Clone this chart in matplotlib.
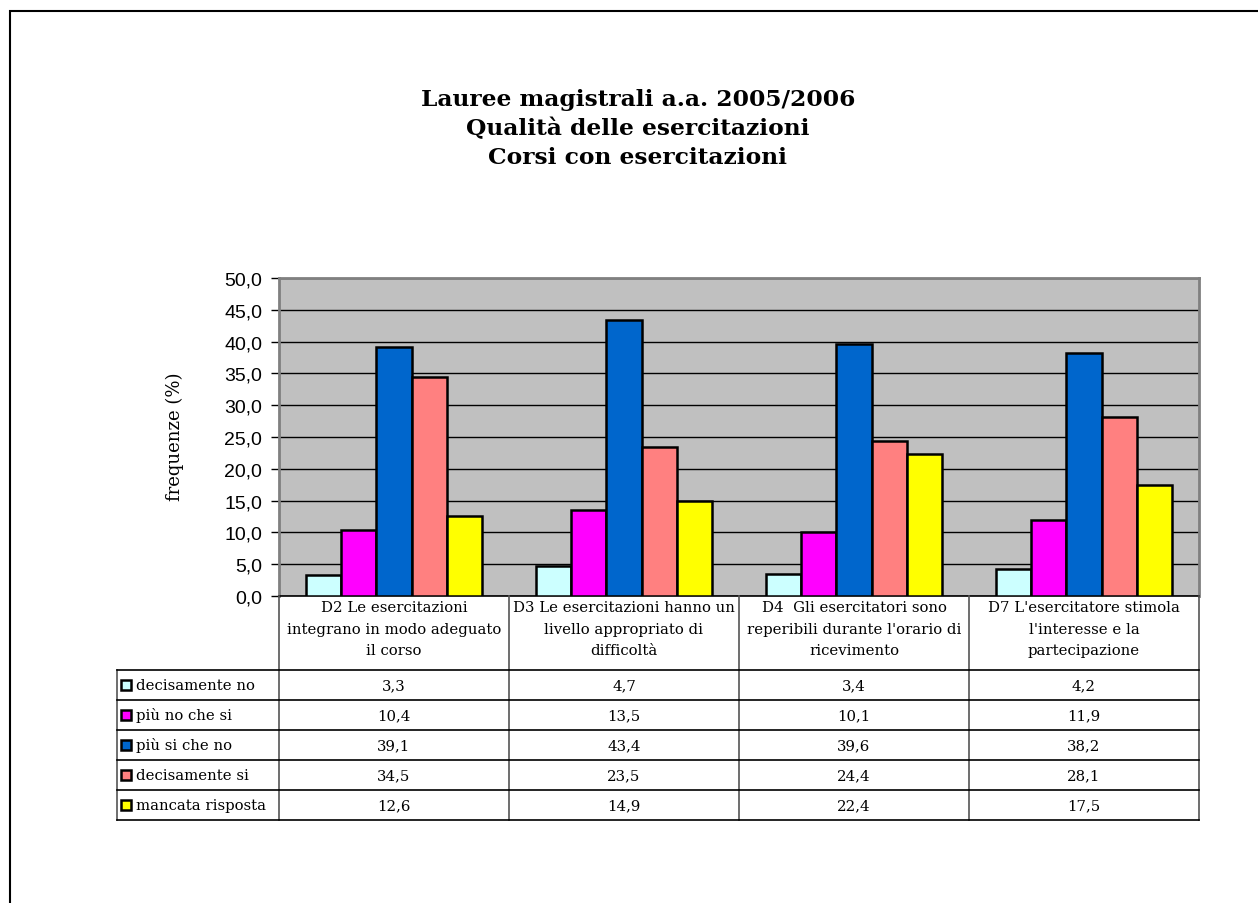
import matplotlib
matplotlib.use("Agg")
import matplotlib.pyplot as plt
import matplotlib.patches as patches
from matplotlib.transforms import blended_transform_factory
import numpy as np

# dati
categories = [
    "D2 Le esercitazioni\nintegrano in modo adeguato\nil corso",
    "D3 Le esercitazioni hanno un\nlivello appropriato di\ndifficoltà",
    "D4  Gli esercitatori sono\nreperibili durante l'orario di\nricevimento",
    "D7 L'esercitatore stimola\nl'interesse e la\npartecipazione",
]
series_names = ["decisamente no", "più no che si", "più si che no",
                "decisamente si", "mancata risposta"]
decisamente_no = [3.3, 4.7, 3.4, 4.2]
piu_no_che_si = [10.4, 13.5, 10.1, 11.9]
piu_si_che_no = [39.1, 43.4, 39.6, 38.2]
decisamente_si = [34.5, 23.5, 24.4, 28.1]
mancata_risposta = [12.6, 14.9, 22.4, 17.5]
yticks = [0, 5, 10, 15, 20, 25, 30, 35, 40, 45, 50]

series = [decisamente_no, piu_no_che_si, piu_si_che_no, decisamente_si, mancata_risposta]
colors = ["#CCFFFF", "#FF00FF", "#0066CC", "#FF8080", "#FFFF00"]

W, H = 1258, 904
fig = plt.figure(figsize=(W / 100, H / 100), dpi=100)
serif = "DejaVu Serif"
tsize = 10.7


def fx(x):
    return x / W


def fy(y):
    return 1 - y / H


# cornice esterna
fig.patches.append(patches.Rectangle((fx(10), fy(H + 20)), fx(W + 20), fy(12) - fy(H + 20),
                                     transform=fig.transFigure, fill=False,
                                     edgecolor="black", linewidth=1.5))

fig.text(fx(638), fy(129), "Lauree magistrali a.a. 2005/2006\nQualità delle esercitazioni\nCorsi con esercitazioni",
         ha="center", va="center", fontsize=16.8, fontweight="bold", family=serif, linespacing=1.38)

ax = fig.add_axes([fx(279), fy(597), fx(1199) - fx(279), fy(279) - fy(597)])
ax.set_facecolor("#C0C0C0")

n = len(series)
bw = 1 / (n + 1.5)
x = np.arange(len(categories))
for i, (vals, c) in enumerate(zip(series, colors)):
    ax.bar(x + (i - (n - 1) / 2) * bw, vals, bw, color=c, edgecolor="black",
           linewidth=1.8, zorder=3)

ax.set_xlim(-0.5, len(categories) - 0.5)
ax.set_ylim(0, 50)
ax.set_yticks(yticks)
ax.set_yticklabels([f"{v:.1f}".replace(".", ",") for v in yticks],
                   fontsize=14, family="Liberation Sans")
ax.tick_params(axis="y", length=6, width=1, pad=6)
ax.set_xticks([])
ax.yaxis.grid(True, color="black", linewidth=1, zorder=1)
ax.set_axisbelow(True)
for s in ["top", "right", "left"]:
    ax.spines[s].set_color("#808080")
    ax.spines[s].set_linewidth(2)
ax.spines["bottom"].set_color("black")
ax.spines["bottom"].set_linewidth(1.2)

fig.text(fx(175), fy(437), "frequenze (%)", rotation=90, ha="center", va="center",
         fontsize=13, family=serif)

# tabella dati
tr = blended_transform_factory(ax.transData, fig.transFigure)
head_top, head_bot = 597, 671
row_h = 30
rows_y = [head_bot + k * row_h for k in range(n + 1)]
bounds = [k - 0.5 for k in range(len(categories) + 1)]

for b in bounds:
    fig.add_artist(plt.Line2D([b, b], [fy(head_top), fy(rows_y[-1])], transform=tr,
                              color="#555555", linewidth=1.2))
fig.add_artist(plt.Line2D([fx(117), fx(117)], [fy(head_bot), fy(rows_y[-1])],
                          transform=fig.transFigure, color="#555555", linewidth=1.2))
for yy in rows_y:
    fig.add_artist(plt.Line2D([fx(117), fx(1199)], [fy(yy), fy(yy)],
                              transform=fig.transFigure, color="black", linewidth=1.2))

for j, cat in enumerate(categories):
    fig.text(j, fy(head_top + 4), cat, transform=tr, ha="center", va="top",
             fontsize=tsize, family=serif, linespacing=1.7)

for i, (name, vals, c) in enumerate(zip(series_names, series, colors)):
    yc = fy(rows_y[i] + row_h / 2)
    fig.patches.append(patches.Rectangle((fx(121), fy(rows_y[i] + row_h / 2 + 5)), fx(10), fy(0) - fy(10),
                                         transform=fig.transFigure, facecolor=c,
                                         edgecolor="black", linewidth=1.8))
    fig.text(fx(136), yc, name, ha="left", va="center", fontsize=tsize, family=serif)
    for j, v in enumerate(vals):
        fig.text(j, yc, f"{v:.1f}".replace(".", ","), transform=tr, ha="center",
                 va="center", fontsize=tsize, family=serif)

fig.savefig("out.png", dpi=100)
